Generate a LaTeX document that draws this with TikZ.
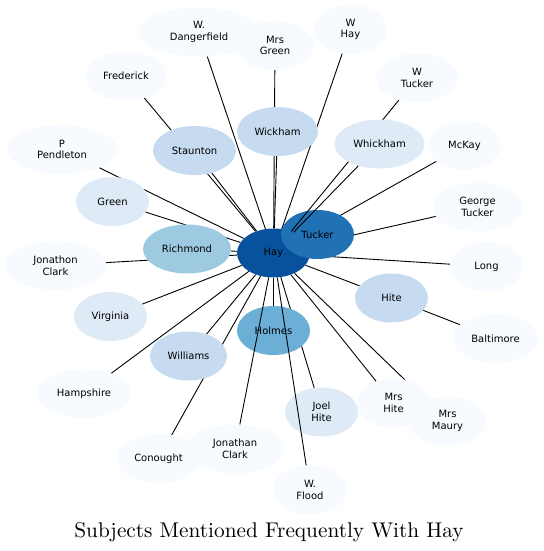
\documentclass[tikz,border=0pt]{standalone}
\usepackage{fontspec}
\newfontfamily\nodefont{DejaVu Sans}
\newfontfamily\titlefont{lmroman10-regular}[Extension=.otf]
\usetikzlibrary{shapes.geometric}
\pgfdeclarelayer{bg}
\pgfsetlayers{bg,main}
\definecolor{b0}{HTML}{F7FBFF}
\definecolor{b1}{HTML}{DEEBF7}
\definecolor{b2}{HTML}{C6DBEF}
\definecolor{b3}{HTML}{9ECAE1}
\definecolor{b4}{HTML}{6BAED6}
\definecolor{b5}{HTML}{2171B5}
\definecolor{b6}{HTML}{08519C}
\begin{document}
\begin{tikzpicture}[x=1pt,y=-1pt,
  ell/.style={ellipse, draw=none, inner sep=0pt, minimum height=49pt, minimum width=73pt,
    align=center, font={\nodefont\fontsize{10}{11.7}\selectfont}, text=black},
  link/.style={draw=black, line width=0.9pt}]
\useasboundingbox (0,0) rectangle (543,551);
\node[ell, fill=b0, minimum width=122pt] (wdanger) at (199,32) {W.\\Dangerfield};
\node[ell, fill=b0, minimum width=78pt] (mrsgreen) at (275,45.5) {Mrs\\Green};
\node[ell, fill=b0] (whay) at (350.5,29.5) {W\\Hay};
\node[ell, fill=b0, minimum width=82pt] (frederick) at (126,76) {Frederick};
\node[ell, fill=b0, minimum width=82pt] (wtucker) at (417,78) {W\\Tucker};
\node[ell, fill=b0, minimum width=110pt] (ppend) at (62,149.5) {P\\Pendleton};
\node[ell, fill=b2, minimum width=83pt] (staunton) at (194.5,150.5) {Staunton};
\node[ell, fill=b2, minimum width=81pt] (wickham) at (277.5,131.5) {Wickham};
\node[ell, fill=b0] (mckay) at (464.5,145.5) {McKay};
\node[ell, fill=b1] (green) at (112.5,201.5) {Green};
\node[ell, fill=b0, minimum width=90pt] (gtucker) at (477.5,207) {George\\Tucker};
\node[ell, fill=b3, minimum width=88pt] (richmond) at (187,249) {Richmond};
\node[ell, fill=b6] (hay) at (273.5,253) {Hay};
\node[ell, fill=b5] (tucker) at (317.5,234.5) {Tucker};
\node[ell, fill=b0, minimum width=101pt] (jonclark) at (55.5,265.5) {Jonathon\\Clark};
\node[ell, fill=b0] (long) at (486.5,266.5) {Long};
\node[ell, fill=b2] (hite) at (391.5,298) {Hite};
\node[ell, fill=b1] (virginia) at (110.5,316.5) {Virginia};
\node[ell, fill=b4] (holmes) at (273.5,330.5) {Holmes};
\node[ell, fill=b0, minimum width=85pt] (baltimore) at (495.5,338.5) {Baltimore};
\node[ell, fill=b2, minimum width=77pt] (williams) at (188.5,356) {Williams};
\node[ell, fill=b0, minimum width=94pt] (hampshire) at (84,393.5) {Hampshire};
\node[ell, fill=b0] (mrshite) at (393.5,403) {Mrs\\Hite};
\node[ell, fill=b1] (joelhite) at (321.5,412) {Joel\\Hite};
\node[ell, fill=b0, minimum width=79pt] (mrsmaury) at (447.5,421) {Mrs\\Maury};
\node[ell, fill=b0, minimum width=84pt] (conought) at (158.5,458.5) {Conought};
\node[ell, fill=b0, minimum width=100pt] (jnclark) at (235,449) {Jonathan\\Clark};
\node[ell, fill=b0, minimum width=74pt] (wflood) at (310,490) {W.\\Flood};
\begin{pgfonlayer}{bg}
\foreach \t in {wdanger,mrsgreen,whay,frederick,staunton,wickham,ppend,green,richmond,jonclark,virginia,hampshire,williams,conought,holmes,joelhite,mrshite,mrsmaury,hite,long,gtucker,mckay}
  \draw[link] (hay) -- (\t);
\draw[link] (hite) -- (baltimore);
\end{pgfonlayer}
\draw[link] (hay) -- (wtucker);
\node[ell, fill=b1, minimum width=90pt] (whickham) at (379.5,144) {Whickham};
\draw[link] (hay) -- (whickham);
\draw[link] (hay) -- (jnclark);
\draw[link] (hay) -- (wflood);
\node[font={\titlefont\fontsize{21.3}{24}\selectfont}, anchor=base, inner sep=0pt] (title) at (269,537.7) {Subjects Mentioned Frequently With Hay};
\end{tikzpicture}
\end{document}
